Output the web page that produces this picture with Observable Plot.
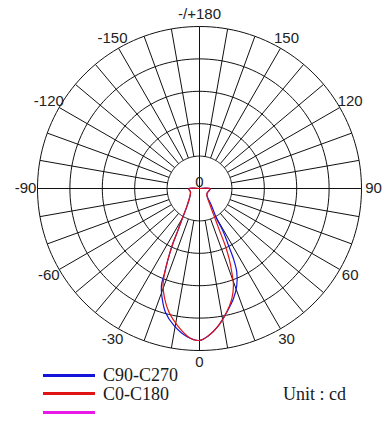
<!DOCTYPE html>
<html><head><meta charset="utf-8">
<script src="https://cdn.jsdelivr.net/npm/d3@7"></script>
<script src="https://cdn.jsdelivr.net/npm/@observablehq/plot@0.6"></script>
<style>
body{margin:0;background:#fff;}
#wrap{position:relative;width:392px;height:428px;overflow:hidden;background:#fff;}
#chart svg{display:block;}
.sw{position:absolute;left:43px;width:52px;height:3px;}
.lt{position:absolute;font:18px/16px "Liberation Serif",serif;color:#1a1a1a;white-space:nowrap;}
</style></head><body>
<div id="wrap"><div id="chart"></div>
<div class="sw" style="top:374px;background:#1414d8"></div>
<div class="sw" style="top:392px;background:#e01414"></div>
<div class="sw" style="top:411px;background:#e619e6"></div>
<div class="lt" id="l1" style="left:103px;top:367px"></div>
<div class="lt" id="l2" style="left:103px;top:386px"></div>
<div class="lt" id="l3" style="left:283px;top:386px"></div>
</div>
<script>
// Polar grid (cd rings) and angle ticks
const rings = [100, 200, 300, 400, 500];
const spokeAngles = d3.range(-170, 181, 10);
const angleTicks = [0, 30, 60, 90, 120, 150, 180, -150, -120, -90, -60, -30];
const angleTickLabels = ["0", "30", "60", "90", "120", "150", "-/+180", "-150", "-120", "-90", "-60", "-30"];
const seriesNames = ["C90-C270", "C0-C180", ""];
const unitLabel = "Unit : cd";

// C0-C180 (red): gamma angle (deg) and intensity (cd)
const c0Angles = [-180, -88.4, -67.6, -35.9, -29.7, -27.0, -25.6, -24.0, -22.5, -20.6, -17.5, -13.9, -9.2, -4.1, 0, 3.5, 7.9, 12.4, 16.3, 19.3, 21.1, 22.9, 24.3, 25.3, 27.4, 32.2, 54, 88, 180];
const c0Values = [0, 33, 30, 65, 108, 151, 195, 238, 280, 320, 357, 393, 428, 460, 469, 455, 427, 391, 355, 317, 277, 235, 193, 149, 105, 62, 28, 33, 0];

// C90-C270 (blue)
const c90Angles = [-180, -88.4, -67.6, -35.9, -29.7, -27.0, -25.6, -24.0, -22.5, -21.4, -18.7, -15.4, -10.6, -4.6, 0, 3.5, 7.9, 12.4, 17.1, 21.0, 24.0, 25.8, 27.0, 28.8, 29.7, 35.2, 54, 88, 180];
const c90Values = [0, 33, 30, 65, 108, 151, 195, 238, 280, 322, 359, 396, 430, 460, 469, 455, 427, 391, 356, 321, 283, 241, 197, 154, 108, 64, 28, 33, 0];

const rad = a => a * Math.PI / 180;
const px = (v, a) => v * Math.sin(rad(a));
const py = (v, a) => -v * Math.cos(rad(a));
const R = rings[rings.length - 1];
const labelR = R * 174 / 162;

const c0 = c0Angles.map((a, i) => ({a, v: c0Values[i]}));
const c90 = c90Angles.map((a, i) => ({a, v: c90Values[i]}));
const ringPts = rings.flatMap(r => d3.range(0, 361, 2).map(a => ({r, a})));

const chart = Plot.plot({
  width: 392, height: 372,
  marginLeft: 37, marginRight: 31, marginTop: 26, marginBottom: 22,
  x: {domain: [-R, R], axis: null},
  y: {domain: [-R, R], axis: null},
  style: {fontFamily: "'Liberation Sans', sans-serif", background: "#fff", color: "#222"},
  marks: [
    Plot.line(ringPts, {x: d => px(d.r, d.a), y: d => py(d.r, d.a), z: "r", stroke: "#111", strokeWidth: 1}),
    Plot.link(spokeAngles.filter(a => a % 90 !== 0), {
      x1: a => px(rings[0], a), y1: a => py(rings[0], a),
      x2: a => px(R, a), y2: a => py(R, a), stroke: "#111", strokeWidth: 1}),
    Plot.link([0, 90], {
      x1: a => px(-R, a), y1: a => py(-R, a),
      x2: a => px(R, a), y2: a => py(R, a), stroke: "#111", strokeWidth: 1}),
    Plot.text(angleTicks, {x: a => px(labelR, a), y: a => py(labelR, a),
      text: (a, i) => angleTickLabels[i], fontSize: 15, fill: "#222"}),
    Plot.text([0], {x: d => d, y: d => d, text: d => String(d), dy: -6, fontSize: 15, fill: "#222"}),
    Plot.line(c90, {x: d => px(d.v, d.a), y: d => py(d.v, d.a), stroke: "#1414d8", strokeWidth: 1.2, curve: "catmull-rom"}),
    Plot.line(c0, {x: d => px(d.v, d.a), y: d => py(d.v, d.a), stroke: "#e01414", strokeWidth: 1.2, curve: "catmull-rom"})
  ]
});
document.getElementById("chart").append(chart);
document.getElementById("l1").textContent = seriesNames[0];
document.getElementById("l2").textContent = seriesNames[1];
document.getElementById("l3").textContent = unitLabel;
</script>
</body></html>
